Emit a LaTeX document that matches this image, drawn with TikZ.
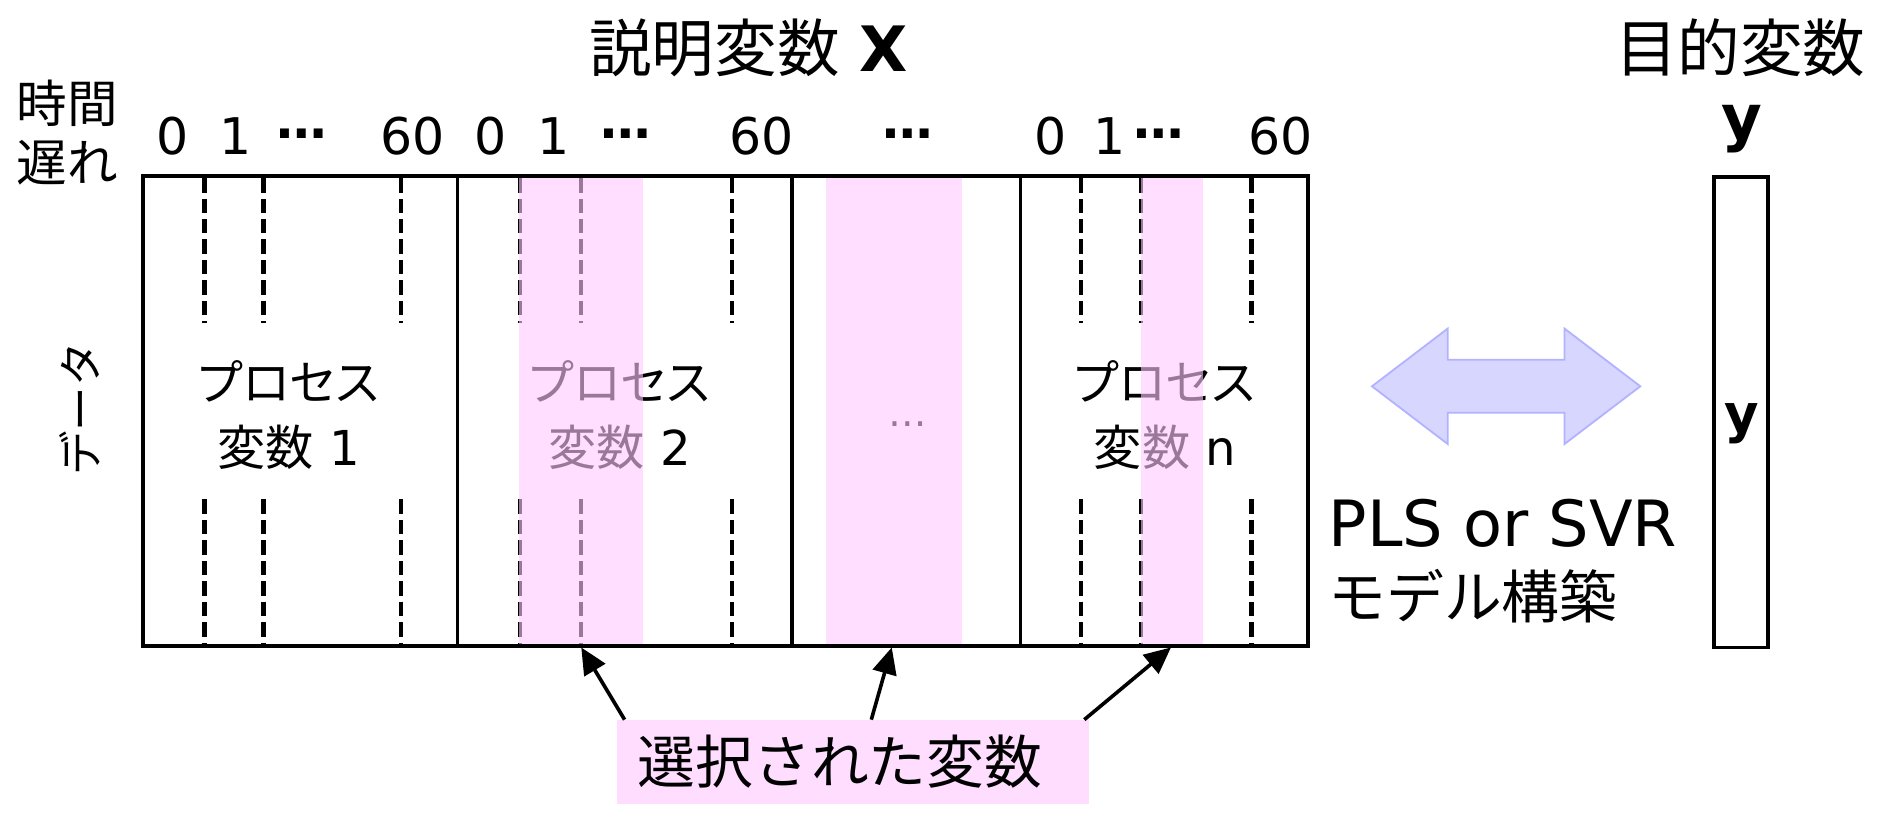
\documentclass[tikz,border=0pt]{standalone}
\usepackage{fontspec}
\setmainfont{DejaVu Sans}
\newfontfamily\jp{Noto Sans CJK JP}
\newfontfamily\jpp[RawFeature=+palt]{Noto Sans CJK JP}
\usetikzlibrary{arrows.meta}
\definecolor{selpink}{RGB}{255,200,255}
\definecolor{boxpink}{RGB}{255,221,255}
\definecolor{arrfill}{RGB}{214,214,255}
\definecolor{arrdraw}{RGB}{178,178,255}
\newcommand\setfs[2]{\fontsize{#1}{#2}\selectfont}
\newcommand\middots{\raisebox{0.3em}{\textbf{…}}}
\tikzset{
  txt/.style={inner sep=0pt, outer sep=0pt},
  num/.style={txt, anchor=base, font=\setfs{42}{50}},
  ptext/.style={txt, align=center, font=\setfs{40}{54}},
  framebox/.style={draw=black, line width=3pt},
  divline/.style={draw=black, line width=3pt},
  dashline/.style={draw=black, line width=3.5pt, dash pattern=on 12pt off 5pt},
  selcol/.style={fill=selpink, fill opacity=0.6, draw=none},
  selarrow/.style={draw=black, line width=3pt, -{Triangle[length=22pt,width=20pt]}},
  bigarrow/.style={fill=arrfill, draw=arrdraw, line width=1.5pt, line join=miter}
}
\begin{document}
\begin{tikzpicture}[x=1pt,y=-1pt]
\useasboundingbox (0,0) rectangle (1568,676);

% headings
\node[txt, font=\setfs{52}{60}] (title) at (622,40) {{\jp 説明変数} \textbf{X}};
\node[txt, font=\setfs{52}{60}] (objective) at (1446,40) {\jp 目的変数};
\node[txt, font=\setfs{52}{60}] (ylabel) at (1447,107) {\textbf{y}};
\node[txt, align=left, font=\setfs{42}{49}\jp] (lag) at (56,110) {時間\\遅れ};
\node[txt, rotate=90, font=\setfs{37}{40}\jp] (data) at (66,340) {データ};

% lag numbers
\node[num] (n10) at (143,128) {0};
\node[num] (n11) at (196,128) {1};
\node[num] (n1d) at (251,128) {\middots};
\node[num] (n160) at (343,128) {60};
\node[num] (n20) at (408,128) {0};
\node[num] (n21) at (460,128) {1};
\node[num] (n2d) at (520,128) {\middots};
\node[num] (n260) at (633,128) {60};
\node[num] (n3d) at (754,128) {\middots};
\node[num] (n40) at (873,128) {0};
\node[num] (n41) at (922,128) {1};
\node[num] (n4d) at (963,128) {\middots};
\node[num] (n460) at (1064,128) {60};

% dashed lag lines
\foreach \xx in {170,219,333,432,483,608,898,948,1040}{
  \draw[dashline] (\xx,148) -- (\xx,268);
  \draw[dashline] (\xx,415) -- (\xx,535);
}

% panel labels
\node[ptext] (pv1) at (240,345) {{\jpp プロセス}\\{\jp 変数} 1};
\node[ptext] (pv2) at (515,345) {{\jpp プロセス}\\{\jp 変数} 2};
\node[txt, font=\setfs{32}{40}] (pv3) at (754,352) {…};
\node[ptext] (pvn) at (968,345) {{\jpp プロセス}\\{\jp 変数} n};

% selected columns (translucent overlay)
\fill[selcol] (431,147) rectangle (534,536);
\fill[selcol] (686,147) rectangle (799,536);
\fill[selcol] (948,147) rectangle (1000,536);

% main frame and dividers
\draw[framebox] (119,146) rectangle (1087,537);
\draw[divline] (380,146) -- (380,537);
\draw[divline] (658,146) -- (658,537);
\draw[divline] (848,146) -- (848,537);

% target column
\draw[framebox] (1424,147) rectangle (1469,538);
\node[txt, font=\setfs{44}{50}] (yin) at (1447,352) {\textbf{y}};

% double arrow
\draw[bigarrow] (1140,321) -- (1203,273) -- (1203,299) -- (1300,299) -- (1300,273)
  -- (1363,321) -- (1300,369) -- (1300,343) -- (1203,343) -- (1203,369) -- cycle;

% model text
\node[txt, align=left, anchor=west, font=\setfs{48}{60}] (model) at (1104,466)
  {{\setfs{53}{60}PLS or SVR}\\{\jp モデル構築}};

% selected variables box
\node[txt, fill=boxpink, anchor=north west, minimum width=392pt, minimum height=70pt,
  text width=358pt, inner xsep=17pt, align=left, font=\setfs{48}{56}\jp] (sel) at (513,598) {選択された変数};

\coordinate (s1) at (519,598);
\coordinate (s2) at (724,598);
\coordinate (s3) at (901,598);
\coordinate (e1) at (483,538);
\coordinate (e2) at (741,538);
\coordinate (e3) at (973,538);
\draw[selarrow] (s1) -- (e1);
\draw[selarrow] (s2) -- (e2);
\draw[selarrow] (s3) -- (e3);
\end{tikzpicture}
\end{document}
